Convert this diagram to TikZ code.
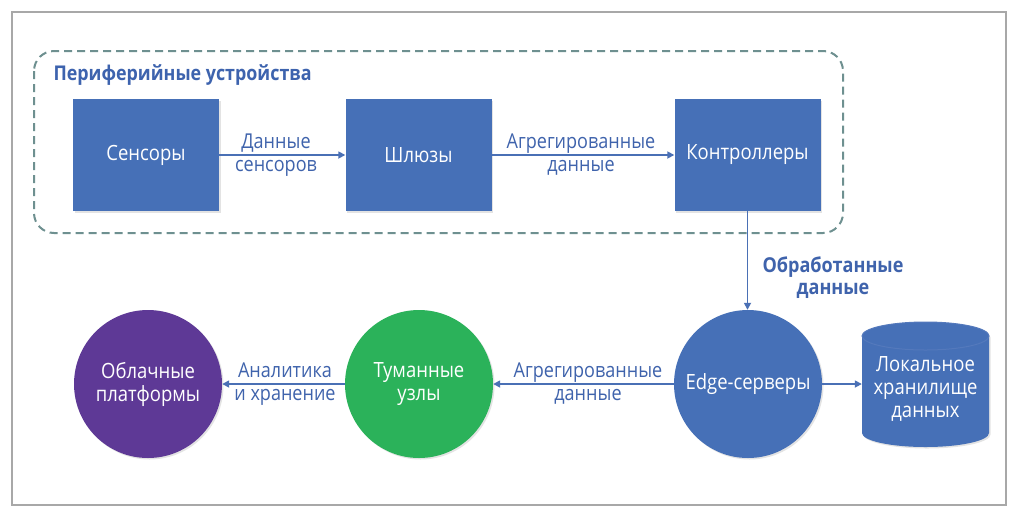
\documentclass[tikz,border=0pt]{standalone}
\usepackage{fontspec}
\setmainfont{Open Sans}[FakeStretch=0.88]
\usetikzlibrary{arrows.meta,shadows}
\definecolor{boxblue}{HTML}{4670B7}
\definecolor{arrowblue}{HTML}{4A70B5}
\definecolor{lblblue}{HTML}{3F63AC}
\definecolor{titleblue}{HTML}{3D63AE}
\definecolor{dashgray}{HTML}{6E9090}
\definecolor{framegray}{HTML}{A8A8A8}
\definecolor{fgreen}{HTML}{2BB25A}
\definecolor{cpurple}{HTML}{5E3996}
\definecolor{edgeblue}{HTML}{4670B7}
\definecolor{cylblue}{HTML}{4670B7}
\definecolor{cyltop}{HTML}{5479BC}
\begin{document}
\begin{tikzpicture}[x=1pt,y=-1pt,
  shad/.style={drop shadow={opacity=0.22, shadow xshift=1.5pt, shadow yshift=-1.5pt}},
  box/.style={rectangle, fill=boxblue, text=white, minimum width=146pt, minimum height=112pt, inner sep=0pt, font=\fontsize{21}{23}\selectfont, shad},
  circ/.style={circle, minimum size=148pt, inner sep=0pt, text=white, align=center, font=\fontsize{21}{23}\selectfont, shad},
  lbl/.style={text=lblblue, align=center, font=\fontsize{20.5}{23}\selectfont},
  blbl/.style={text=lblblue, align=center, font=\bfseries\fontsize{20.5}{22}\selectfont},
  conn/.style={draw=arrowblue, line width=1.6pt, -{Triangle[width=7pt,length=7pt]}},
  group/.style={draw=dashgray, line width=2pt, dash pattern=on 8pt off 5pt, rounded corners=20pt}
]
\useasboundingbox (0,0) rectangle (1024,520);
\fill[white] (0,0) rectangle (1024,520);
\draw[framegray, line width=1.5pt] (12,12) rectangle (1006,505);

\draw[group] (34,51) rectangle (843,233);
\node[anchor=west, text=titleblue, font=\bfseries\fontsize{20.3}{23}\selectfont] (title) at (50,75) {Периферийные устройства};

\node[box] (sens) at (146,155) {Сенсоры};
\node[box] (gate) at (418.5,155) {Шлюзы};
\node[box] (ctrl) at (747.5,155) {Контроллеры};

\node[circ, fill=edgeblue] (edge) at (748,384) {Edge-серверы};
\node[circ, fill=fgreen] (fog) at (419,384) {Туманные\\узлы};
\node[circ, fill=cpurple] (cloud) at (148,384) {Облачные\\платформы};

% storage cylinder
\fill[cylblue, shad] (862,336) -- (862,433) arc[start angle=180, end angle=360, x radius=63.5pt, y radius=14pt] -- (989,336) arc[start angle=0, end angle=180, x radius=63.5pt, y radius=14pt] -- cycle;
\draw[cyltop, line width=1pt] (925.5,336) ellipse[x radius=63.5pt, y radius=14pt];
\node[rectangle, minimum width=127pt, minimum height=125pt, inner sep=0pt, text=white, align=center, font=\fontsize{21}{23}\selectfont] (stor) at (925.5,389) {Локальное\\хранилище\\данных};

\node[lbl] (l1) at (276,155) {Данные\\сенсоров};
\node[lbl] (l2) at (581,155) {Агрегированные\\данные};
\node[lbl] (l3) at (588,384) {Агрегированные\\данные};
\node[lbl] (l4) at (285,384) {Аналитика\\и хранение};
\node[blbl] (l5) at (833,278) {Обработанные\\данные};

\draw[conn] (sens) -- (gate);
\draw[conn] (gate) -- (ctrl);
\draw[conn] (ctrl.south) -- (ctrl.south |- edge.north);
\draw[conn] (edge) -- (fog);
\draw[conn] (fog) -- (cloud);
\draw[conn] (edge.east) -- (stor.west |- edge.east);
\end{tikzpicture}
\end{document}
